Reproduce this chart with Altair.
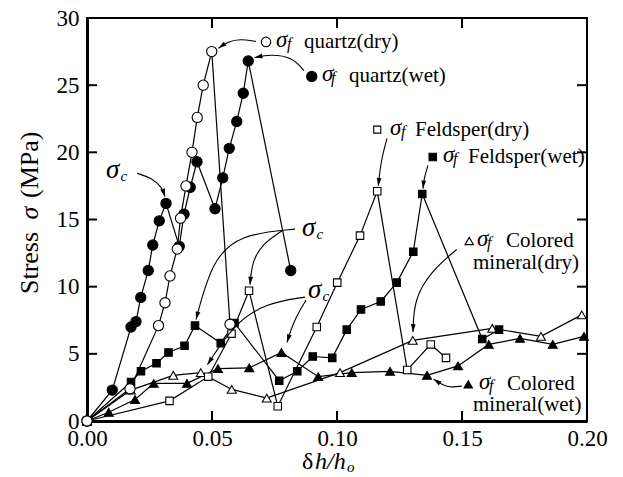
import math
import altair as alt
import pandas as pd

FONT = "Liberation Serif, Times New Roman, serif"

# ---------------- data ----------------
quartz_dry_x = [0.0, 0.0172, 0.0286, 0.0312, 0.0332, 0.0361, 0.0374, 0.0396, 0.0420, 0.0441, 0.0465, 0.0499, 0.0572]
quartz_dry_y = [0.0, 2.4, 7.1, 8.8, 10.8, 12.8, 15.1, 17.5, 20.0, 22.6, 25.0, 27.5, 7.2]

quartz_wet_x = [0.0, 0.0101, 0.0176, 0.0196, 0.0215, 0.0245, 0.0263, 0.0289, 0.0316, 0.0369, 0.0388, 0.0413, 0.0440,
                0.0512, 0.0543, 0.0569, 0.0599, 0.0625, 0.0645, 0.0815]
quartz_wet_y = [0.0, 2.3, 7.0, 7.4, 9.2, 11.2, 13.1, 14.9, 16.2, 13.0, 15.4, 17.4, 19.3,
                15.8, 18.1, 20.3, 22.3, 24.4, 26.8, 11.2]

feld_dry_x = [0.0, 0.0330, 0.0485, 0.0578, 0.0648, 0.0763, 0.0919, 0.1001, 0.1092, 0.1161, 0.1281, 0.1375, 0.1436]
feld_dry_y = [0.0, 1.5, 3.3, 6.5, 9.7, 1.1, 7.0, 10.3, 13.8, 17.1, 3.8, 5.7, 4.7]

feld_wet_x = [0.0, 0.0176, 0.0216, 0.0278, 0.0326, 0.0390, 0.0432, 0.0535, 0.0590, 0.0769, 0.0841, 0.0903,
              0.0981, 0.1039, 0.1096, 0.1175, 0.1239, 0.1305, 0.1341, 0.1581, 0.1648]
feld_wet_y = [0.0, 2.9, 3.7, 4.3, 5.1, 5.6, 7.1, 5.8, 7.3, 3.0, 3.7, 4.8,
              4.7, 6.8, 8.3, 8.9, 10.3, 12.6, 16.9, 6.1, 6.8]

cm_dry_x = [0.0, 0.0175, 0.0345, 0.0455, 0.0579, 0.0719, 0.1012, 0.1303, 0.1621, 0.1816, 0.1979]
cm_dry_y = [0.0, 2.3, 3.4, 3.6, 2.35, 1.7, 3.6, 6.0, 6.9, 6.3, 7.9]

cm_wet_x = [0.0, 0.0087, 0.0192, 0.0267, 0.0400, 0.0524, 0.0649, 0.0778, 0.0925, 0.1059, 0.1212, 0.1360,
            0.1484, 0.1607, 0.1732, 0.1863, 0.1988]
cm_wet_y = [0.0, 0.65, 1.6, 2.8, 2.8, 3.9, 3.95, 5.1, 3.3, 3.6, 3.7, 3.4,
            4.1, 5.7, 6.15, 5.7, 6.3]

x_ticks = [0.0, 0.05, 0.10, 0.15, 0.20]
y_ticks = [0, 5, 10, 15, 20, 25, 30]

# ---------------- layout ----------------
W, H = 500, 403
X_MAX, Y_MAX = 0.2, 30
PX_X = W / X_MAX
PX_Y = H / Y_MAX

xs = alt.Scale(domain=[0, X_MAX], nice=False, zero=False)
ys = alt.Scale(domain=[0, Y_MAX], nice=False, zero=False)
x_axis = alt.Axis(values=x_ticks, format=".2f", title=None, ticks=False, grid=False,
                  labelFlush=False, labelPadding=6, labelFontSize=23)
y_axis = alt.Axis(values=y_ticks, format="d", title=None, ticks=False, grid=False,
                  labelFlush=False, labelPadding=8, labelFontSize=23)
X = alt.X("x:Q", scale=xs, axis=x_axis)
Y = alt.Y("y:Q", scale=ys, axis=y_axis)

layers = []


def add_series(xv, yv, shape, fill, size):
    df = pd.DataFrame({"x": xv, "y": yv, "i": list(range(len(xv)))})
    layers.append(alt.Chart(df).mark_line(color="black", strokeWidth=1.2).encode(x=X, y=Y, order="i:Q"))
    return (df, shape, fill, size)


point_specs = [
    add_series(cm_wet_x, cm_wet_y, "triangle-up", "black", 80),
    add_series(cm_dry_x, cm_dry_y, "triangle-up", "white", 80),
    add_series(feld_wet_x, feld_wet_y, "square", "black", 56),
    add_series(feld_dry_x, feld_dry_y, "square", "white", 56),
    add_series(quartz_wet_x, quartz_wet_y, "circle", "black", 105),
    add_series(quartz_dry_x, quartz_dry_y, "circle", "white", 105),
]
for df, shape, fill, size in point_specs:
    layers.append(alt.Chart(df).mark_point(shape=shape, filled=True, fill=fill, stroke="black",
                                           strokeWidth=1.1, size=size, opacity=1).encode(x=X, y=Y))

# ---------------- inward ticks ----------------
TX = 10 / PX_X
TY = 10 / PX_Y
tick_rows = []
for v in x_ticks[1:-1]:
    tick_rows.append({"x": v, "x2": v, "y": 0, "y2": TY})
    tick_rows.append({"x": v, "x2": v, "y": Y_MAX, "y2": Y_MAX - TY})
for v in y_ticks[1:-1]:
    tick_rows.append({"x": 0, "x2": TX, "y": v, "y2": v})
    tick_rows.append({"x": X_MAX, "x2": X_MAX - TX, "y": v, "y2": v})
layers.append(alt.Chart(pd.DataFrame(tick_rows)).mark_rule(color="black", strokeWidth=2).encode(
    x=X, y=Y, x2="x2:Q", y2="y2:Q"))

# ---------------- annotation arrows ----------------
arrows = {
    "qd": [(0.0676, 28.25), (0.0612, 28.45), (0.0564, 28.25), (0.0526, 27.75)],
    "qw": [(0.0868, 26.09), (0.0820, 27.10), (0.0732, 27.30), (0.0670, 27.05)],
    "fd": [(0.1200, 21.04), (0.1176, 19.40), (0.1165, 17.50)],
    "fw": [(0.1364, 19.03), (0.1348, 18.07), (0.1344, 17.30)],
    "cd": [(0.1479, 12.77), (0.1372, 11.08), (0.1308, 9.00), (0.1304, 6.62)],
    "cw": [(0.1500, 2.60), (0.1440, 2.45), (0.1386, 3.12)],
    "c1": [(0.0200, 18.44), (0.0262, 18.07), (0.0300, 17.40), (0.0312, 16.70)],
    "c2a": [(0.0832, 14.28), (0.0612, 13.90), (0.0500, 11.97), (0.0436, 7.55)],
    "c2b": [(0.0784, 14.20), (0.0700, 13.16), (0.0660, 11.82), (0.0652, 10.15)],
    "c3a": [(0.0872, 9.22), (0.0712, 8.77), (0.0584, 7.14), (0.0482, 4.20)],
    "c3b": [(0.0876, 9.00), (0.0828, 7.51), (0.0800, 5.85)],
}
arrow_rows, head_rows = [], []
for k, pts in arrows.items():
    for i, (ax, ay) in enumerate(pts):
        arrow_rows.append({"id": k, "i": i, "x": ax, "y": ay})
    (x0, y0), (x1, y1) = pts[-2], pts[-1]
    dxp = (x1 - x0) * PX_X
    dyp = -(y1 - y0) * PX_Y
    ang = math.degrees(math.atan2(dxp, -dyp)) % 360
    head_rows.append({"x": x1, "y": y1, "a": ang})
layers.append(alt.Chart(pd.DataFrame(arrow_rows)).mark_line(color="black", strokeWidth=1.1,
                                                             interpolate="basis").encode(
    x=X, y=Y, detail="id:N", order="i:Q"))
layers.append(alt.Chart(pd.DataFrame(head_rows)).mark_point(
    shape="M0,0L0.6,2L-0.6,2Z", filled=True, color="black", size=64, opacity=1).encode(
    x=X, y=Y, angle=alt.Angle("a:Q", scale=None)))

# ---------------- legend-style labels ----------------
legend_markers = [
    (0.0716, 28.22, "circle", "white", 90),
    (0.0899, 25.65, "circle", "black", 105),
    (0.1161, 21.69, "square", "white", 50),
    (0.1383, 19.65, "square", "black", 56),
    (0.1529, 13.40, "triangle-up", "white", 70),
    (0.1525, 2.73, "triangle-up", "black", 70),
]
for mx, my, shape, fill, size in legend_markers:
    layers.append(alt.Chart(pd.DataFrame({"x": [mx], "y": [my]})).mark_point(
        shape=shape, filled=True, fill=fill, stroke="black", strokeWidth=1.1, size=size, opacity=1).encode(x=X, y=Y))

label_texts = [
    ("quartz(dry)", 0.0868, 28.2),
    ("quartz(wet)", 0.1048, 25.65),
    ("Feldsper(dry)", 0.1312, 21.69),
    ("Feldsper(wet)", 0.1524, 19.65),
    ("Colored", 0.1676, 13.40),
    ("mineral(dry)", 0.1544, 11.75),
    ("Colored", 0.1680, 2.73),
    ("mineral(wet)", 0.1544, 1.19),
]
sigma_f_texts = [
    ("σ", 0.0756, 28.2), ("σ", 0.0940, 25.65), ("σ", 0.1212, 21.69), ("σ", 0.1424, 19.65),
    ("σ", 0.1560, 13.40), ("σ", 0.1568, 2.73),
]
sigma_c_texts = [("σ", 0.0076, 18.44), ("σ", 0.0860, 14.13), ("σ", 0.0884, 9.52)]
sub_f_texts = [
    ("f", 0.0800, 28.2), ("f", 0.0976, 25.65), ("f", 0.1256, 21.69), ("f", 0.1464, 19.65),
    ("f", 0.1600, 13.40), ("f", 0.1608, 2.73),
]
sub_c_texts = [("c", 0.0134, 18.44), ("c", 0.0918, 14.13), ("c", 0.0942, 9.52)]


def text_layer(rows, size, style, dy=0, angle=0, align="left"):
    df = pd.DataFrame(rows, columns=["t", "x", "y"])
    kw = dict(font=FONT, fontSize=size, fontStyle=style, align=align, baseline="middle", dy=dy, color="black")
    if angle:
        kw["angle"] = angle
    return alt.Chart(df).mark_text(**kw).encode(x=X, y=Y, text="t:N")


layers.append(text_layer(label_texts, 21, "normal"))
layers.append(text_layer(sigma_f_texts, 23, "italic", dy=-2))
layers.append(text_layer(sigma_c_texts, 27, "italic", dy=-3))
layers.append(text_layer(sub_f_texts, 16, "italic", dy=2))
layers.append(text_layer(sub_c_texts, 15, "italic", dy=3))

# ---------------- axis titles (mixed styles) ----------------
layers.append(text_layer([("δ", 0.0860, -3.05)], 24, "normal"))
layers.append(text_layer([("h/h", 0.0912, -3.05)], 24, "italic"))
layers.append(text_layer([("o", 0.1040, -3.05)], 15, "italic", dy=5))

layers.append(text_layer([("Stress", -0.0228, 9.45), ("(MPa)", -0.0228, 16.6)], 26, "normal", angle=270))
layers.append(text_layer([("σ", -0.0228, 15.0)], 26, "italic", angle=270))

chart = alt.layer(*layers).properties(
    width=W, height=H,
    autosize=alt.AutoSizeParams(type="none"),
    padding={"left": 87, "top": 18, "right": 36, "bottom": 56},
    background="white",
).configure_view(stroke="black", strokeWidth=2).configure_axis(
    labelFont=FONT, labelColor="black", domainColor="black", domainWidth=3
)

chart.save("out.html", embed_options={"renderer": "svg", "actions": False})
